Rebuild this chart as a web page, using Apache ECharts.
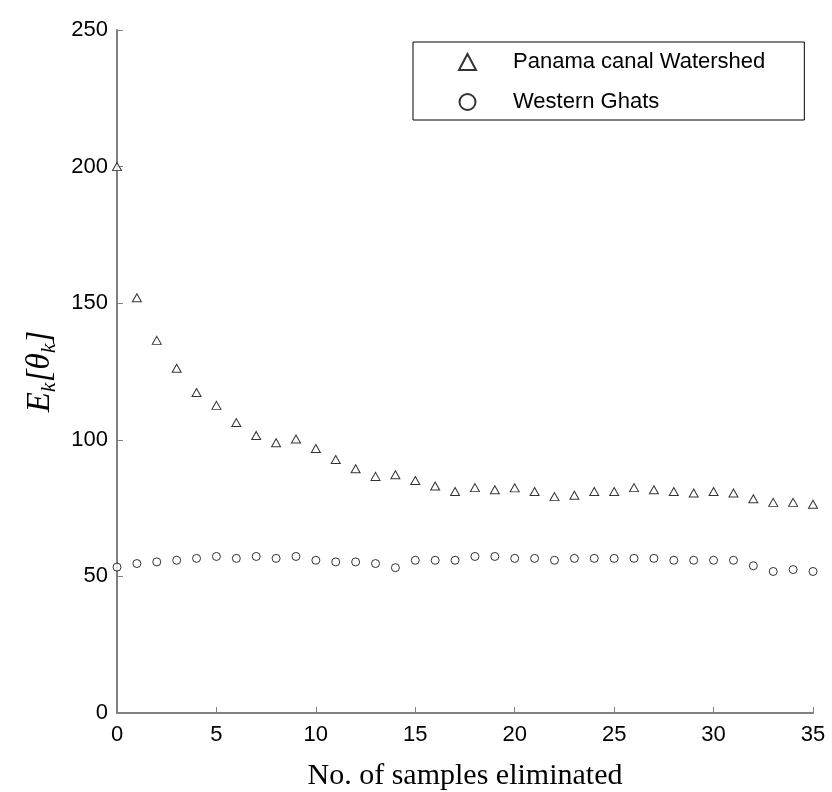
<!DOCTYPE html>
<html>
<head>
    <meta charset="utf-8">
    <script type="text/javascript" src="https://cdn.jsdelivr.net/npm/echarts@6/dist/echarts.min.js"></script>
</head>
<body style="margin: 0; background: #fff">
    <div id="container" style="height: 792px; width: 832px;"></div>
    <script type="text/javascript">
    // samples eliminated (x) and the two series
    var samples = [];
    for (var i = 0; i <= 35; i++) samples.push(i);

    var panama = [200, 152, 136.4, 126.2, 117.3, 112.6, 106.3, 101.6, 98.9, 100.3,
                  96.8, 92.8, 89.4, 86.6, 87.2, 85.1, 83.1, 81.1, 82.5, 81.7,
                  82.4, 81.1, 79.2, 79.7, 81.1, 81.1, 82.5, 81.7, 81.1, 80.5,
                  81.1, 80.5, 78.4, 77.1, 77.1, 76.4];
    var ghats = [53.4, 54.7, 55.3, 55.9, 56.6, 57.3, 56.6, 57.3, 56.6, 57.3,
                 55.9, 55.3, 55.3, 54.7, 53.2, 55.9, 55.9, 55.9, 57.3, 57.3,
                 56.6, 56.6, 55.9, 56.6, 56.6, 56.6, 56.6, 56.6, 55.9, 55.9,
                 55.9, 55.9, 53.9, 51.8, 52.5, 51.8];

    var seriesNames = ['Panama canal Watershed', 'Western Ghats'];

    function pairs(ys) {
        return samples.map(function (x, k) { return [x, ys[k]]; });
    }

    var axisGray = '#808080';
    var dom = document.getElementById('container');
    var myChart = echarts.init(dom);

    var option = {
        backgroundColor: '#fff',
        animation: false,
        grid: {
            left: 117,
            right: 19,
            top: 30,
            bottom: 79,
            outerBoundsMode: 'none',
            containLabel: false
        },
        legend: {
            left: 413,
            top: 42,
            orient: 'vertical',
            backgroundColor: '#fff',
            borderColor: '#000',
            borderWidth: 1,
            borderRadius: 0,
            padding: [8, 39, 6, 45],
            itemWidth: 17,
            itemHeight: 16,
            itemGap: 16,
            textStyle: {
                fontFamily: 'Liberation Sans',
                fontSize: 22,
                color: '#000',
                lineHeight: 24,
                padding: [0, 0, 0, 32],
                width: 250
            },
            data: seriesNames
        },
        xAxis: {
            type: 'value',
            min: 0,
            max: 35,
            interval: 5,
            name: 'No. of samples eliminated',
            nameLocation: 'middle',
            nameGap: 48,
            nameTextStyle: {
                fontFamily: 'Liberation Serif',
                fontSize: 30,
                color: '#000'
            },
            axisLine: { lineStyle: { color: axisGray, width: 2 } },
            axisTick: { inside: true, length: 6, lineStyle: { color: axisGray, width: 1 } },
            axisLabel: {
                margin: 11,
                fontFamily: 'Liberation Sans',
                fontSize: 22,
                color: '#000'
            },
            splitLine: { show: false }
        },
        yAxis: {
            type: 'value',
            min: 0,
            max: 250,
            interval: 50,
            name: '{e|E}{s|k}{e|[}{e|θ}{s|k}{e|]}',
            nameLocation: 'middle',
            nameRotate: 90,
            nameGap: 55,
            nameTextStyle: {
                rich: {
                    e: { fontFamily: 'Liberation Serif', fontStyle: 'italic', fontSize: 33, color: '#000', lineHeight: 40, verticalAlign: 'middle' },
                    s: { fontFamily: 'Liberation Serif', fontStyle: 'italic', fontSize: 22, color: '#000', lineHeight: 40, verticalAlign: 'bottom', padding: [12, 0, 0, 0] }
                }
            },
            axisLine: { show: true, lineStyle: { color: axisGray, width: 2 } },
            axisTick: { show: true, inside: true, length: 6, lineStyle: { color: axisGray, width: 1 } },
            axisLabel: {
                margin: 9,
                fontFamily: 'Liberation Sans',
                fontSize: 22,
                color: '#000'
            },
            splitLine: { show: false }
        },
        series: [{
            name: seriesNames[0],
            type: 'scatter',
            symbol: 'triangle',
            symbolSize: [9, 8],
            itemStyle: { color: '#fff', borderColor: '#000', borderWidth: 1 },
            data: pairs(panama)
        }, {
            name: seriesNames[1],
            type: 'scatter',
            symbol: 'circle',
            symbolSize: 8,
            itemStyle: { color: '#fff', borderColor: '#000', borderWidth: 1 },
            data: pairs(ghats)
        }]
    };

    myChart.setOption(option);
    </script>
</body>
</html>
